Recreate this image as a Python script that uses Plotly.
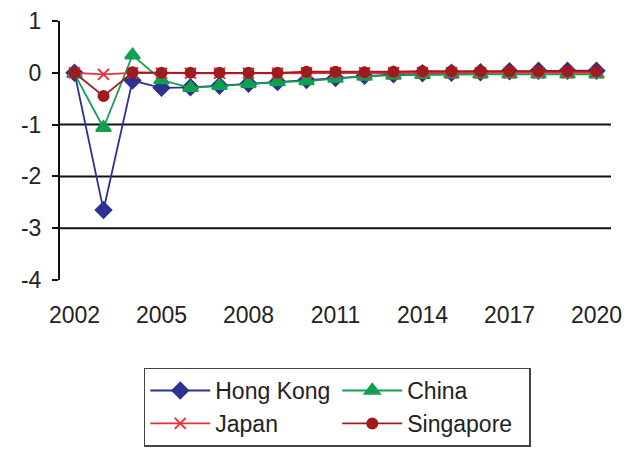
import plotly.graph_objects as go

years = list(range(2002, 2021))
hong_kong = [0.0, -2.65, -0.15, -0.29, -0.28, -0.25, -0.21, -0.18, -0.14, -0.1, -0.06, -0.03, -0.01, 0.0, 0.01, 0.03, 0.04, 0.04, 0.04]
china = [-0.02, -1.06, 0.34, -0.14, -0.29, -0.25, -0.21, -0.18, -0.16, -0.11, -0.07, -0.05, -0.04, -0.03, -0.03, -0.03, -0.03, -0.03, -0.03]
japan = [0.0, -0.03, 0.0, -0.01, -0.01, -0.01, -0.01, -0.01, 0.0, 0.0, 0.0, 0.0, 0.0, 0.0, 0.0, 0.0, 0.0, 0.0, 0.0]
singapore = [0.0, -0.45, 0.01, 0.0, 0.0, 0.0, 0.0, 0.0, 0.02, 0.02, 0.01, 0.02, 0.03, 0.03, 0.03, 0.03, 0.03, 0.03, 0.03]

x_tick_vals = [2002, 2005, 2008, 2011, 2014, 2017, 2020]
x_tick_text = ["2002", "2005", "2008", "2011", "2014", "2017", "2020"]
boundary_ticks = [y - 0.5 for y in years] + [years[-1] + 0.5]
y_tick_vals = [1, 0, -1, -2, -3, -4]
y_tick_text = ["1", "0", "-1", "-2", "-3", "-4"]
grid_levels = [-1, -2, -3]

FONT = "Liberation Sans, Arial, sans-serif"

fig = go.Figure()
series = [
    ("Hong Kong", hong_kong, "#2E3192", "diamond", 12),
    ("China", china, "#10A050", "triangle-up", 13),
    ("Japan", japan, "#E8333C", "x-thin", 11),
    ("Singapore", singapore, "#9E1B1E", "circle", 10),
]
for name, vals, col, sym, sz in series:
    fig.add_trace(go.Scatter(
        x=years, y=vals, name=name, mode="lines+markers",
        line=dict(color=col, width=1.8),
        marker=dict(symbol=sym, size=sz, color=col, line=dict(color=col, width=2)),
    ))

for g in grid_levels:
    fig.add_hline(y=g, line=dict(color="#111111", width=2), layer="below")

fig.update_layout(
    width=628, height=451,
    margin=dict(l=60, r=17, t=21, b=171, autoexpand=False),
    paper_bgcolor="white", plot_bgcolor="white",
    font=dict(family=FONT, size=23, color="#222222"),
    showlegend=True,
    legend=dict(
        orientation="h", x=0.152, y=-0.338, xanchor="left", yanchor="top",
        bgcolor="white", bordercolor="#444444", borderwidth=1.5,
        itemwidth=60, entrywidth=117, font=dict(size=23),
        traceorder="normal",
    ),
    xaxis=dict(
        range=[2001.5, 2020.5], tickvals=x_tick_vals, ticktext=x_tick_text,
        showgrid=False, zeroline=False, showline=False, ticks="",
        ticklabelstandoff=19,
    ),
    xaxis2=dict(
        range=[2001.5, 2020.5], overlaying="x", anchor="free", position=0.8,
        side="bottom", showline=True, linecolor="#111111", linewidth=2,
        tickvals=boundary_ticks, ticks="outside", ticklen=6, tickwidth=1.5,
        tickcolor="#111111", showticklabels=False, showgrid=False, zeroline=False,
    ),
    yaxis=dict(
        range=[-4, 1], tickvals=y_tick_vals, ticktext=y_tick_text,
        showgrid=False, zeroline=False,
        showline=True, linecolor="#111111", linewidth=2,
        ticks="outside", ticklen=6, tickwidth=1.5, tickcolor="#111111",
        ticklabelstandoff=6,
    ),
)

fig.write_html("out.html")
